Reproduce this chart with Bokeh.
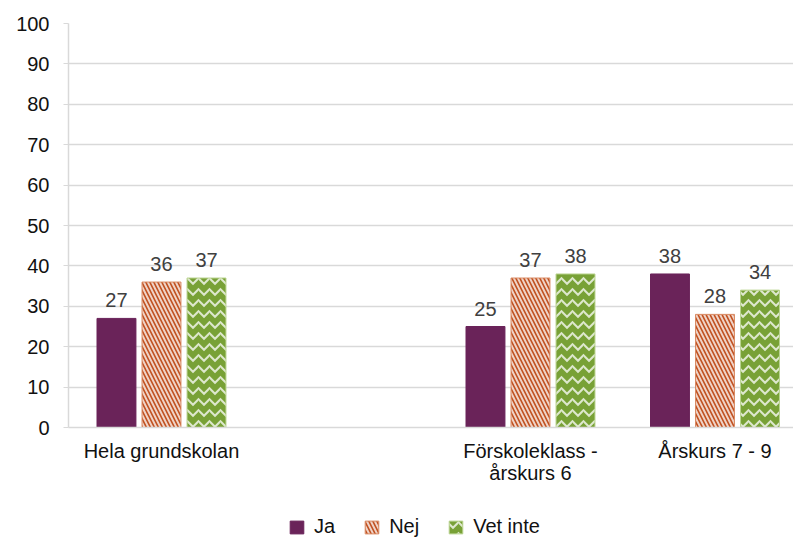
from bokeh.plotting import figure
from bokeh.layouts import column
from bokeh.models import ColumnDataSource, Range1d, FixedTicker, Legend, LegendItem, LabelSet
from bokeh.transform import dodge
from bokeh.core.properties import value
from bokeh.embed import file_html
from bokeh.resources import INLINE

# ---- data ----
categories = ["Hela grundskolan", "", "Förskoleklass -\nårskurs 6", "Årskurs 7 - 9"]
series_names = ["Ja", "Nej", "Vet inte"]
ja = [27, None, 25, 38]
nej = [36, None, 37, 28]
vet_inte = [37, None, 38, 34]
y_ticks = [0, 10, 20, 30, 40, 50, 60, 70, 80, 90, 100]

FONT = "Liberation Sans"
FS = "20px"
colors = ["#6A2359", "#C0501F", "#78A136"]
outline = [None, "#D98A63", "#B9D38F"]
hatches = [None, "left_diagonal_line", "horizontal_wave"]
hscale = [None, 8, 11]
offsets = [-0.244, 0.0, 0.244]
bar_w = 0.211

idx = [i for i, c in enumerate(categories) if c != ""]

W = 793
H_MAIN = 500
H_LEG = 39

p = figure(width=W, height=H_MAIN, output_backend="svg", toolbar_location=None,
           title=None, x_range=Range1d(-0.504, 3.4255), y_range=Range1d(0, 100),
           min_border_left=68, min_border_right=0, min_border_top=23,
           min_border_bottom=H_MAIN - 427)
p.outline_line_color = None
p.background_fill_color = "white"
p.xgrid.visible = False
p.ygrid.grid_line_color = "#D9D9D9"
p.ygrid.grid_line_width = 1.5
p.ygrid.ticker = FixedTicker(ticks=y_ticks)


def style_kw(col, oc, hat, hs):
    kw = dict(fill_color=col, line_color=oc if oc else col, line_width=1)
    if hat:
        kw.update(hatch_pattern=hat, hatch_color="white", hatch_alpha=0.75,
                  hatch_scale=hs, hatch_weight=2)
    return kw


for name, vals, col, oc, hat, hs, off in zip(series_names, [ja, nej, vet_inte], colors, outline,
                                             hatches, hscale, offsets):
    src = ColumnDataSource(dict(
        x=[i for i in idx],
        y=[vals[i] for i in idx],
        lab=[str(vals[i]) for i in idx],
    ))
    p.vbar(x=dodge("x", off, range=p.x_range), top="y", width=bar_w, source=src,
           **style_kw(col, oc, hat, hs))
    p.add_layout(LabelSet(x=dodge("x", off, range=p.x_range), y="y", text="lab", source=src,
                          y_offset=11, text_align="center", text_baseline="bottom",
                          text_font=value(FONT), text_font_size=value(FS),
                          text_color="#404040"))

# y axis
ya = p.yaxis[0]
ya.ticker = FixedTicker(ticks=y_ticks)
ya.axis_line_color = "#D9D9D9"
ya.axis_line_width = 1.5
ya.major_tick_line_color = "#D9D9D9"
ya.major_tick_out = 5
ya.major_tick_in = 0
ya.minor_tick_line_color = None
ya.major_label_standoff = 14
ya.major_label_text_font = FONT
ya.major_label_text_font_size = FS
ya.major_label_text_color = "#111111"

# x axis
xa = p.xaxis[0]
xa.ticker = FixedTicker(ticks=idx)
xa.major_label_overrides = {i: categories[i] for i in idx}
xa.axis_line_color = "#D9D9D9"
xa.axis_line_width = 1.5
xa.major_tick_line_color = None
xa.major_tick_out = 0
xa.major_tick_in = 0
xa.minor_tick_line_color = None
xa.major_label_standoff = 12
xa.major_label_text_font = FONT
xa.major_label_text_font_size = FS
xa.major_label_text_color = "#111111"
xa.major_label_text_line_height = 1.0

# ---- legend strip ----
p2 = figure(width=W, height=H_LEG, output_backend="svg", toolbar_location=None,
            title=None, x_range=Range1d(0, 1), y_range=Range1d(0, 1),
            x_axis_type=None, y_axis_type=None,
            min_border_left=0, min_border_right=0, min_border_top=0, min_border_bottom=0)
p2.outline_line_color = None
p2.xgrid.visible = False
p2.ygrid.visible = False
leg_renderers = []
for col, oc, hat, hs in zip(colors, outline, hatches, hscale):
    # a single off-range point so the legend swatch has a style to draw with
    leg_renderers.append(p2.vbar(x=[10], top=[0.5], width=0.1, **style_kw(col, oc, hat, hs)))

legend = Legend(items=[LegendItem(label=n, renderers=[r]) for n, r in zip(series_names, leg_renderers)],
                location=(220, 1), orientation="horizontal", padding=0, margin=0,
                spacing=28, glyph_width=17, glyph_height=16, label_standoff=9,
                border_line_color=None, background_fill_alpha=0,
                label_text_font=FONT, label_text_font_size=FS, label_text_color="#111111")
p2.add_layout(legend)

layout = column(p, p2, spacing=0)
open("out.html", "w").write(file_html(layout, INLINE))
